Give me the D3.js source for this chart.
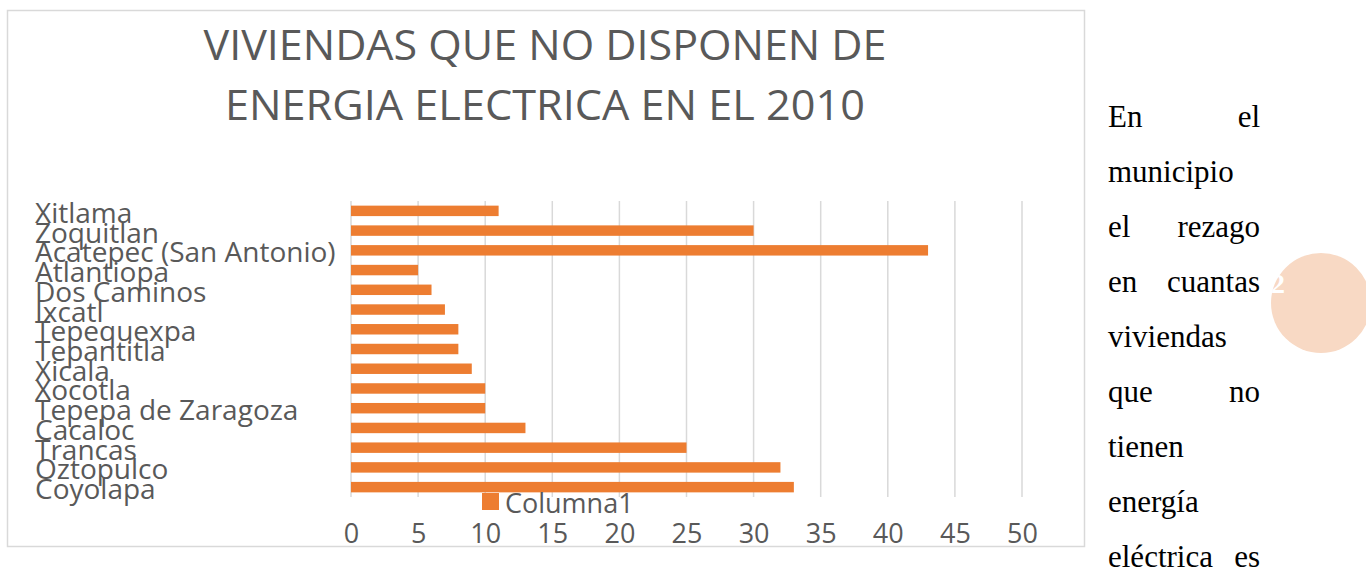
<!DOCTYPE html>
<html><head><meta charset="utf-8">
<script src="https://cdn.jsdelivr.net/npm/d3@7"></script>
<style>html,body{margin:0;padding:0;background:#fff;}svg{display:block;}</style>
</head><body>
<script>
const categories = ["Xitlama","Zoquitlan","Acatepec (San Antonio)","Atlantiopa","Dos Caminos","Ixcatl","Tepequexpa","Tepantitla","Xicala","Xocotla","Tepepa de Zaragoza","Cacaloc","Trancas","Oztopulco","Coyolapa"];
const values = [11,30,43,5,6,7,8,8,9,10,10,13,25,32,33];
const xTicks = [0,5,10,15,20,25,30,35,40,45,50];
const seriesName = "Columna1";
const titleLines = ["VIVIENDAS QUE NO DISPONEN DE","ENERGIA ELECTRICA EN EL 2010"];
const sideLines = [["En","el"],["municipio"],["el","rezago"],["en","cuantas"],["viviendas"],["que","no"],["tienen"],["energía"],["eléctrica","es"]];

const W=1366,H=569;
const svg=d3.select("body").append("svg").attr("width",W).attr("height",H);

// chart frame
svg.append("rect").attr("x",7.5).attr("y",10.5).attr("width",1077).attr("height",536)
  .attr("fill","#fff").attr("stroke","#d9d9d9").attr("stroke-width",1.5);

// title
const titleW=[683,640];
svg.selectAll("text.title").data(titleLines).join("text").attr("class","title")
  .attr("x",545).attr("y",(d,i)=>60+i*60).attr("text-anchor","middle")
  .attr("font-family","Open Sans").attr("font-size",42).attr("fill","#595959")
  .attr("textLength",(d,i)=>titleW[i]).attr("lengthAdjust","spacingAndGlyphs").text(d=>d);

const x=d3.scaleLinear().domain([0,50]).range([351,1022]);
const y=d3.scaleBand().domain(categories).range([201,497]).paddingInner(0.47).paddingOuter(0.235);

// gridlines
svg.append("g").selectAll("line").data(xTicks).join("line")
  .attr("x1",d=>x(d)).attr("x2",d=>x(d)).attr("y1",201).attr("y2",497)
  .attr("stroke","#d9d9d9").attr("stroke-width",1.5);

// bars
svg.append("g").selectAll("rect").data(values).join("rect")
  .attr("x",x(0)).attr("y",(d,i)=>y(categories[i])).attr("width",d=>x(d)-x(0))
  .attr("height",y.bandwidth()).attr("fill","#ed7d31");

// category labels
svg.append("g").selectAll("text").data(categories).join("text")
  .attr("x",35).attr("y",d=>y(d)+y.bandwidth()/2+12).attr("font-family","Open Sans")
  .attr("font-size",28).attr("fill","#595959").text(d=>d);

// x axis labels
const xAxis=d3.axisBottom(x).tickValues(xTicks).tickSize(0).tickPadding(0);
const gx=svg.append("g").call(xAxis);
gx.select(".domain").remove();
gx.selectAll("text").attr("y",543).attr("dy",null).attr("font-family","Open Sans").attr("font-size",27).attr("fill","#595959");

// legend
svg.append("rect").attr("x",482).attr("y",493).attr("width",17).attr("height",17).attr("fill","#ed7d31");
svg.append("text").attr("x",505).attr("y",513).attr("font-family","Open Sans").attr("font-size",27)
  .attr("fill","#595959").text(seriesName);

// side decoration circle
svg.append("circle").attr("cx",1321).attr("cy",303).attr("r",50).attr("fill","#f8d9c4");
svg.append("text").attr("x",1271).attr("y",293).attr("font-family","Liberation Serif")
  .attr("font-weight","bold").attr("font-size",28).attr("fill","#fff").text("2");

// side paragraph (justified)
const sg=svg.append("g");
const fs=31;
sideLines.forEach((words,i)=>{
  const yy=127+i*55;
  sg.append("text").attr("x",1108).attr("y",yy).attr("font-family","Liberation Serif").attr("font-size",fs).attr("fill","#000").text(words[0]);
  if(words.length>1){
    sg.append("text").attr("x",1260).attr("y",yy).attr("text-anchor","end").attr("font-family","Liberation Serif").attr("font-size",fs).attr("fill","#000").text(words[1]);
  }
});
</script>
</body></html>
